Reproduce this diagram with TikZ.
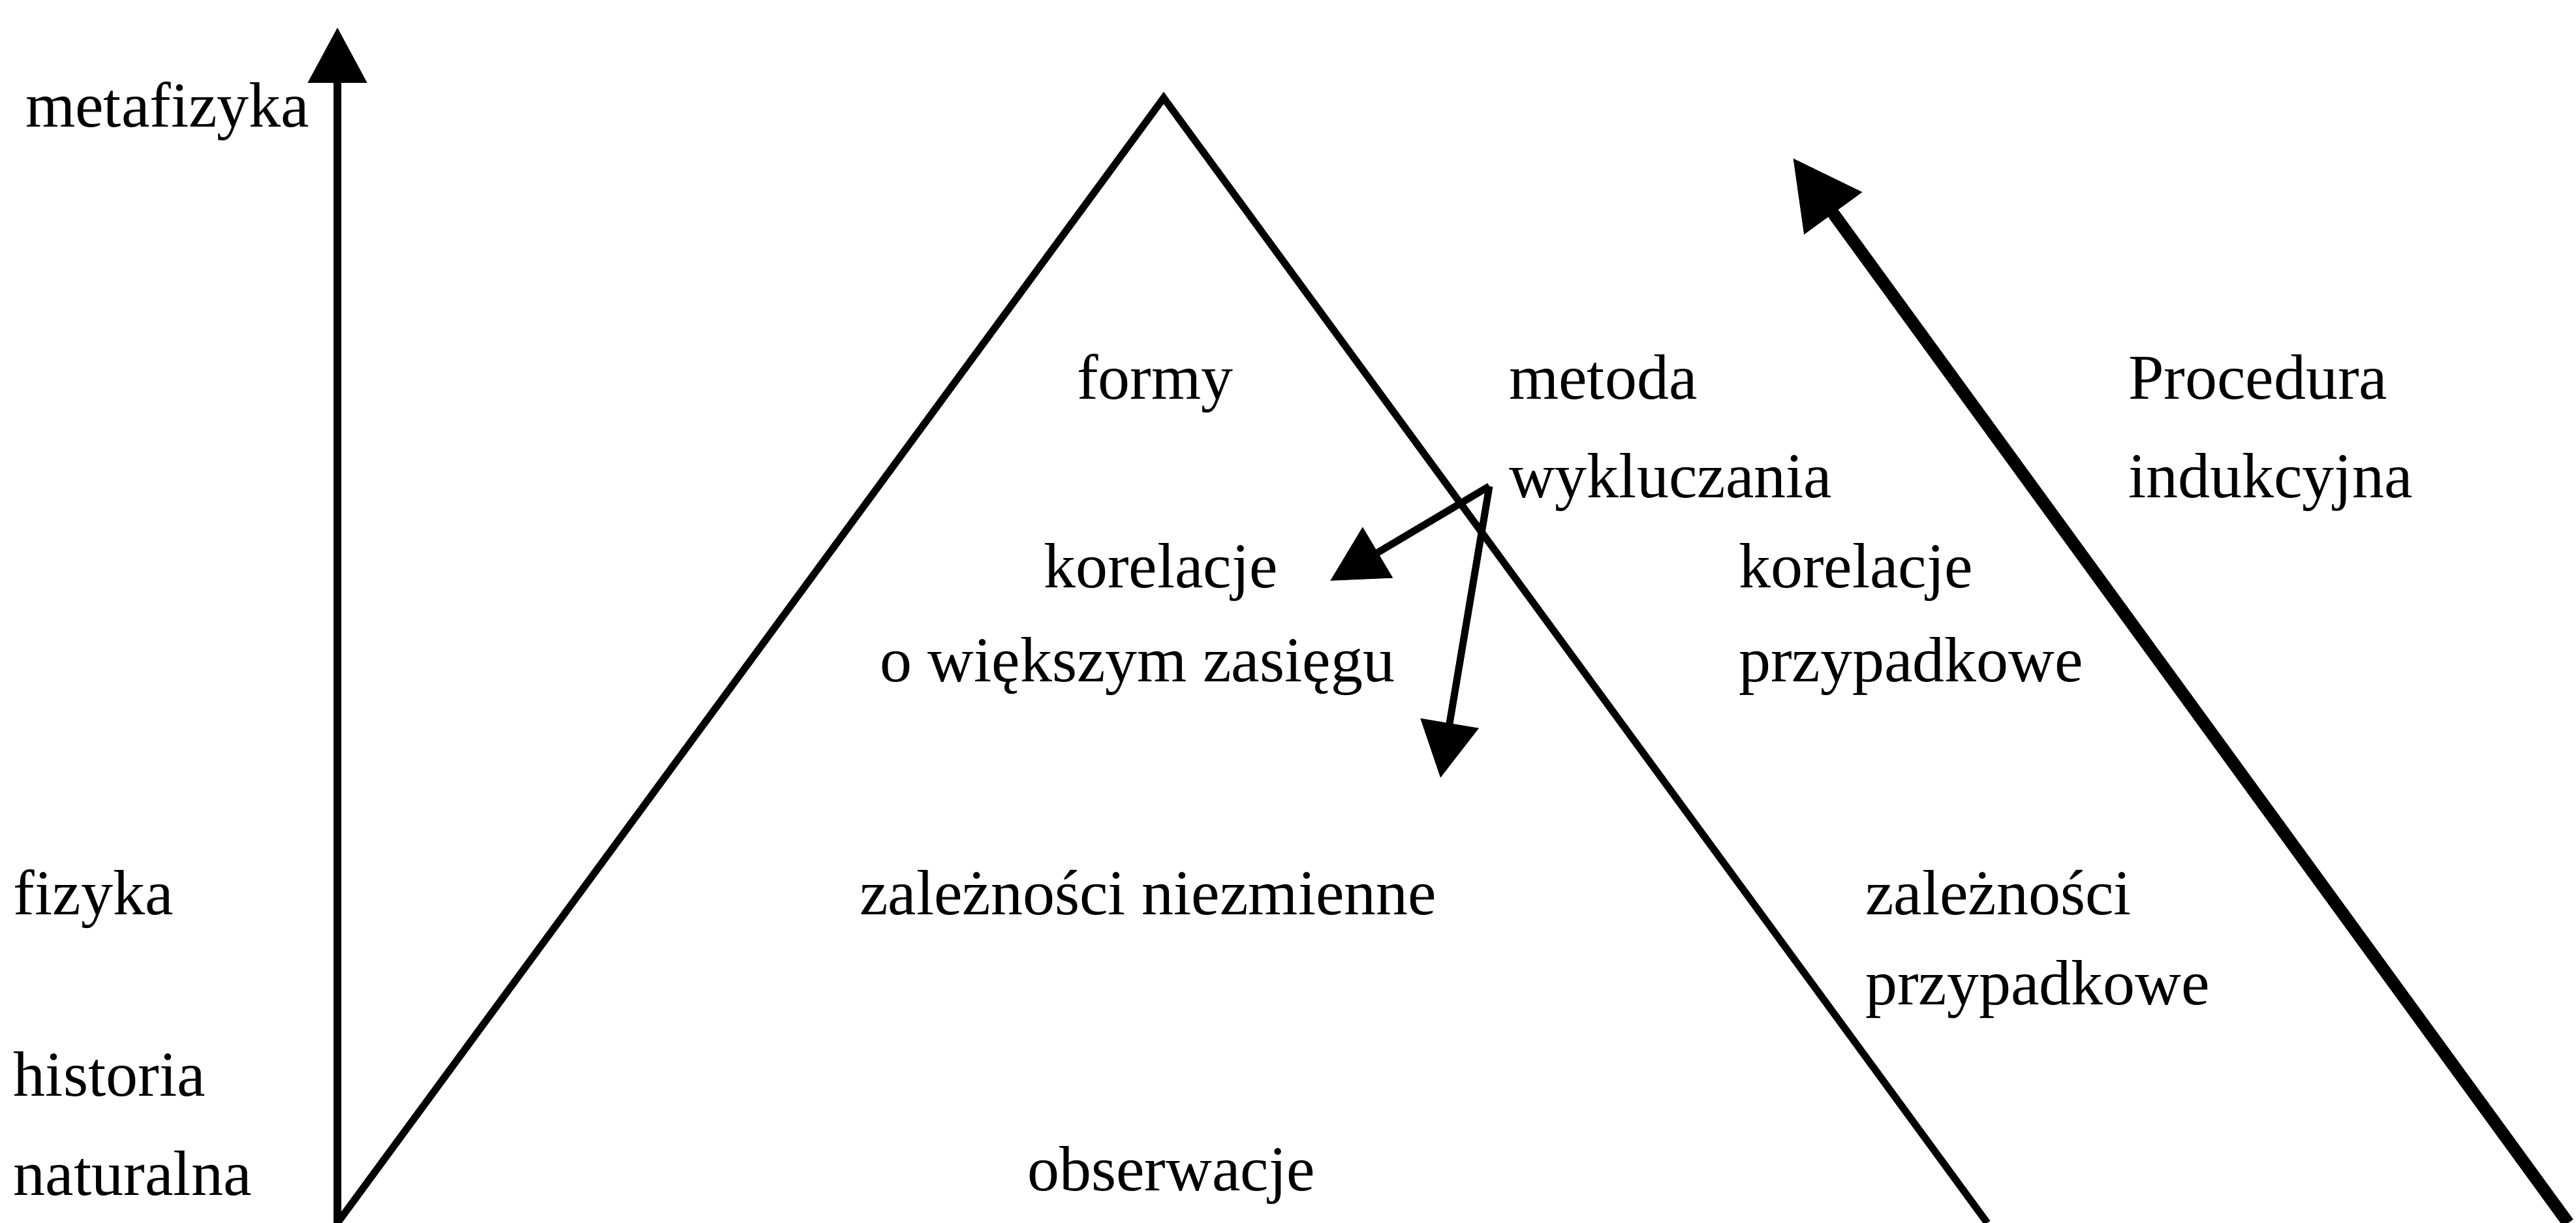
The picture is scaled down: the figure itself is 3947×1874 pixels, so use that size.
\documentclass[tikz,border=0pt]{standalone}
\usepackage{fontspec}
\setmainfont{Liberation Serif}
\usetikzlibrary{arrows.meta}
\begin{document}
\begin{tikzpicture}[x=0.2pt,y=-0.2pt,
  lbl/.style={anchor=base west, inner sep=0pt, font=\fontsize{19.6pt}{23pt}\selectfont},
  edgeline/.style={line width=2.2pt, line join=miter},
  axisarrow/.style={line width=2.4pt, -{Triangle[length=17pt,width=17.6pt]}},
  smallarrow/.style={line width=2.2pt, -{Triangle[length=17pt,width=17.6pt]}},
  bigarrow/.style={line width=3.8pt, -{Triangle[length=21pt,width=21pt]}}]
\useasboundingbox (0,0) rectangle (3947,1874);

% left axis labels
\node[lbl] (metaf) at (38,195) {metafizyka};
\node[lbl] (fiz) at (20,1402) {fizyka};
\node[lbl] (hist1) at (20,1679) {historia};
\node[lbl] (hist2) at (20,1832) {naturalna};

% inner labels
\node[lbl] (formy) at (1649,612) {formy};
\node[lbl] (kor1) at (1598,901) {korelacje};
\node[lbl] (kor2) at (1347,1045) {o większym zasięgu};
\node[lbl] (zal) at (1316,1402) {zależności niezmienne};
\node[lbl] (obs) at (1573,1825) {obserwacje};

% outer labels
\node[lbl] (met1) at (2311,612) {metoda};
\node[lbl] (met2) at (2311,763) {wykluczania};
\node[lbl] (kp1) at (2663,901) {korelacje};
\node[lbl] (kp2) at (2663,1045) {przypadkowe};
\node[lbl] (zp1) at (2857,1402) {zależności};
\node[lbl] (zp2) at (2857,1540) {przypadkowe};
\node[lbl] (proc1) at (3260,612) {Procedura};
\node[lbl] (proc2) at (3260,763) {indukcyjna};

% coordinates
\coordinate (axbot) at (517,1874);
\coordinate (axtop) at (517,42);
\coordinate (apex) at (1783,150);
\coordinate (rbase) at (3045,1874);
\coordinate (bigstart) at (3935,1874);
\coordinate (bigtip) at (2747,242);
\coordinate (ex) at (2282,745);
\coordinate (extip1) at (2038,890);
\coordinate (extip2) at (2207,1192);

% drawing
\draw[axisarrow] (axbot) -- (axtop);
\draw[edgeline] (axbot) -- (apex) -- (rbase);
\draw[bigarrow] (bigstart) -- (bigtip);
\draw[smallarrow] (ex) -- (extip1);
\draw[smallarrow] (ex) -- (extip2);
\end{tikzpicture}
\end{document}
